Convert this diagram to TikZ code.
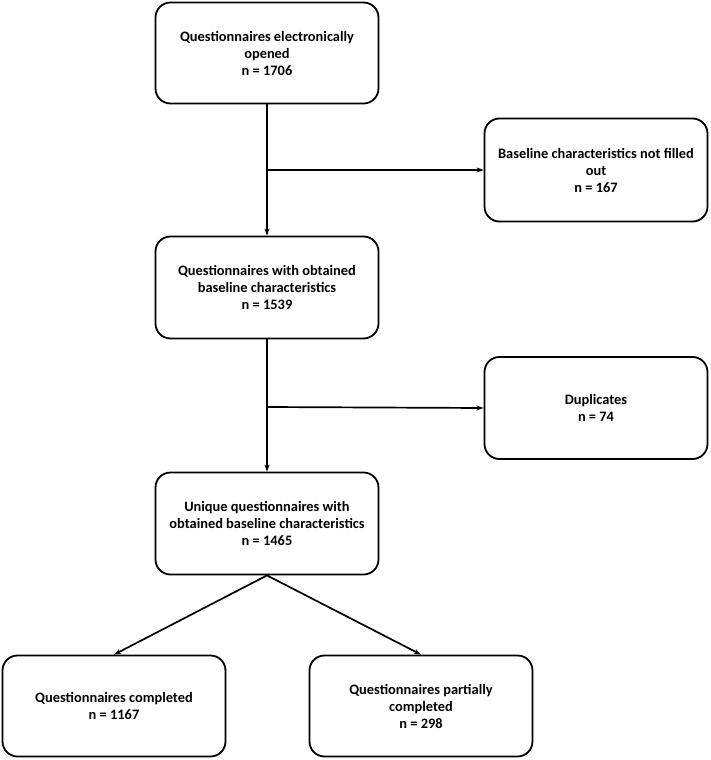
\documentclass[tikz,border=0pt]{standalone}
\usepackage{fontspec}
\setmainfont{Carlito}
\usetikzlibrary{arrows.meta}
\begin{document}
\begin{tikzpicture}[x=1pt,y=-1pt,
  box/.style={draw=black,line width=1.8pt,rounded corners=15pt,minimum width=223pt,minimum height=101pt,inner sep=2pt,align=center,font=\fontsize{14.4}{17}\selectfont\bfseries},
  conn/.style={line width=1.7pt,-{Stealth[length=7pt,width=5pt]}}]
\useasboundingbox (0,0) rectangle (710,760);
\node[box] (a) at (267,53) {Questionnaires electronically\\opened\\n = 1706};
\node[box,minimum height=103pt] (r1) at (596,170) {Baseline characteristics not filled\\out\\n = 167};
\node[box,minimum height=102pt] (b) at (267,287.5) {Questionnaires with obtained\\baseline characteristics\\n = 1539};
\node[box,minimum height=102pt] (r2) at (596,408) {Duplicates\\n = 74};
\node[box,minimum height=102pt] (c) at (267,523.5) {Unique questionnaires with\\obtained baseline characteristics\\n = 1465};
\node[box] (d) at (114,706) {Questionnaires completed\\n = 1167};
\node[box] (e) at (421,706) {Questionnaires partially\\completed\\n = 298};
\coordinate (j1) at (267,170);
\coordinate (j2) at (267,407);
\draw[conn] (a.south) -- (b.north);
\draw[conn] (j1) -- (r1.west);
\draw[conn] (b.south) -- (c.north);
\draw[conn] (j2) -- (r2.west);
\draw[conn] (c.south) -- (d.north);
\draw[conn] (c.south) -- (e.north);
\end{tikzpicture}
\end{document}
